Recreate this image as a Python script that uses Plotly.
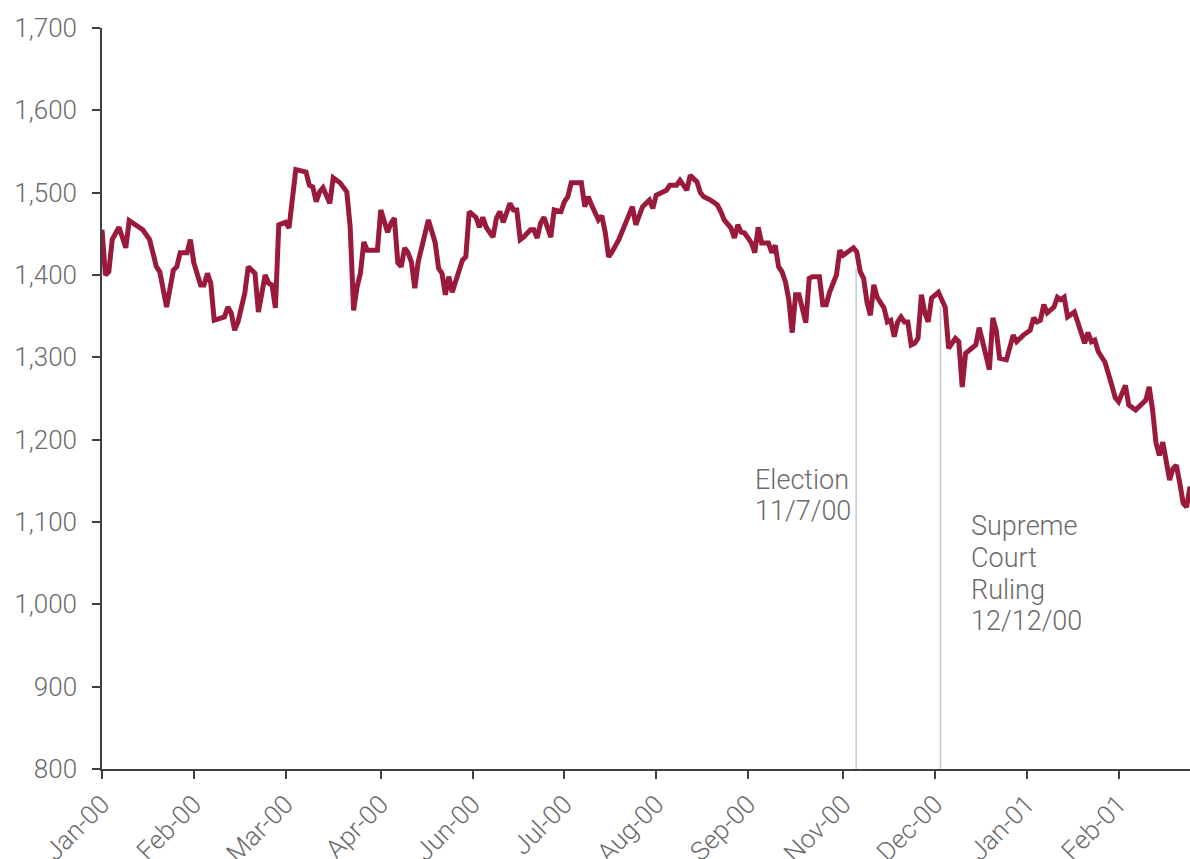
import plotly.graph_objects as go

# trading-day index and S&P 500 level
day = [0, 1, 2, 3, 5, 7, 8, 11, 12, 14, 16, 17, 19, 21, 22, 23, 25, 26, 27, 29,
       30, 31, 32, 33, 36, 37, 38, 39, 40, 42, 43, 45, 46, 48, 49, 50, 51, 52, 54, 55,
       56, 57, 58, 60, 61, 62, 63, 64, 65, 67, 68, 70, 72, 73, 74, 75, 76, 77, 78, 81,
       82, 83, 84, 85, 86, 87, 88, 89, 90, 91, 92, 93, 96, 98, 99, 100, 101, 102, 103, 106,
       107, 108, 110, 111, 112, 113, 115, 116, 117, 118, 120, 121, 122, 123, 124, 126, 127, 128, 129, 130,
       132, 133, 135, 136, 137, 138, 141, 142, 143, 144, 146, 147, 148, 149, 150, 152, 154, 156, 157, 159,
       161, 162, 163, 165, 166, 167, 169, 170, 172, 173, 175, 176, 177, 179, 181, 182, 183, 185, 186, 187,
       188, 189, 190, 191, 192, 193, 194, 195, 196, 197, 198, 199, 200, 201, 202, 203, 204, 205, 206, 207,
       208, 209, 211, 212, 213, 214, 216, 217, 218, 219, 220, 221, 222, 223, 224, 225, 226, 227, 228, 230,
       231, 232, 233, 234, 235, 236, 237, 238, 239, 240, 241, 242, 243, 244, 246, 248, 249, 251, 252, 253,
       254, 255, 257, 258, 259, 260, 261, 262, 263, 264, 266, 268, 269, 271, 273, 274, 275, 276, 277, 278,
       279, 280, 281, 282, 283, 284, 286, 287, 289, 290, 291, 292, 293, 295, 296, 297, 298, 299, 301, 302,
       304, 305, 307, 308, 309, 310, 311, 312, 313, 314, 315, 316, 317, 318, 319, 320]
level = [1455, 1400, 1404, 1443, 1458, 1433, 1466, 1457, 1455, 1443, 1410, 1404, 1361, 1406, 1410, 1427, 1427, 1443, 1415, 1388,
         1388, 1402, 1390, 1345, 1349, 1361, 1354, 1333, 1343, 1378, 1410, 1402, 1355, 1400, 1390, 1388, 1360, 1461, 1464, 1457,
         1494, 1528, 1527, 1525, 1509, 1507, 1489, 1501, 1506, 1487, 1518, 1512, 1501, 1458, 1357, 1385, 1402, 1440, 1430, 1430,
         1479, 1467, 1452, 1463, 1469, 1415, 1410, 1433, 1427, 1416, 1384, 1416, 1467, 1439, 1408, 1402, 1376, 1398, 1379, 1418,
         1422, 1477, 1470, 1458, 1470, 1458, 1446, 1469, 1477, 1464, 1487, 1479, 1479, 1443, 1446, 1455, 1455, 1445, 1463, 1470,
         1446, 1479, 1477, 1489, 1495, 1512, 1512, 1483, 1495, 1485, 1467, 1472, 1452, 1422, 1428, 1443, 1464, 1483, 1461, 1483,
         1491, 1481, 1497, 1500, 1503, 1509, 1509, 1515, 1503, 1521, 1513, 1500, 1495, 1491, 1485, 1477, 1467, 1457, 1445, 1461,
         1452, 1451, 1445, 1439, 1427, 1458, 1439, 1439, 1439, 1427, 1436, 1410, 1404, 1392, 1370, 1330, 1376, 1376, 1360, 1342,
         1396, 1398, 1398, 1364, 1364, 1379, 1400, 1430, 1424, 1427, 1430, 1433, 1428, 1404, 1396, 1367, 1351, 1388, 1373, 1360,
         1343, 1345, 1325, 1343, 1349, 1343, 1343, 1315, 1317, 1323, 1376, 1354, 1343, 1372, 1379, 1361, 1311, 1323, 1319, 1264,
         1305, 1309, 1315, 1336, 1317, 1301, 1285, 1348, 1333, 1299, 1297, 1327, 1319, 1327, 1333, 1348, 1343, 1345, 1364, 1354,
         1357, 1361, 1373, 1370, 1373, 1349, 1355, 1342, 1317, 1330, 1319, 1321, 1307, 1294, 1282, 1266, 1251, 1246, 1266, 1242,
         1236, 1240, 1248, 1264, 1236, 1196, 1181, 1197, 1172, 1151, 1165, 1169, 1147, 1123, 1118, 1143]

tick_days = [0, 27, 54, 82, 109, 136, 163, 190, 218, 245, 272, 299]
tick_labels = ["Jan-00", "Feb-00", "Mar-00", "Apr-00", "Jun-00", "Jul-00",
               "Aug-00", "Sep-00", "Nov-00", "Dec-00", "Jan-01", "Feb-01"]
y_ticks = [800, 900, 1000, 1100, 1200, 1300, 1400, 1500, 1600, 1700]

event_days = [221.8, 246.6]
event_tops = [1408, 1362]
# annotation lines: (text, x in days, y in index points)
election_lines = ["Election", "11/7/00"]
election_x = 191.6
election_y = [1151, 1113]
court_lines = ["Supreme", "Court", "Ruling", "12/12/00"]
court_x = 255.0
court_y = [1095, 1056, 1017, 980]

LINE = "#9a1a3c"
TXT = "#6b6b6b"
AX = "#404040"
FONT = dict(family="Roboto", size=26, color=TXT, weight=300)
ANN_FONT = dict(family="Roboto", size=27, color=TXT, weight=300)

fig = go.Figure()
for d, top in zip(event_days, event_tops):
    fig.add_trace(go.Scatter(x=[d, d], y=[800, top], mode="lines",
                             line=dict(color="#c3c6da", width=1.5),
                             hoverinfo="skip", showlegend=False))
fig.add_trace(go.Scatter(x=day, y=level, mode="lines",
                         line=dict(color=LINE, width=5),
                         showlegend=False))

for lines, lx, ly in [(election_lines, election_x, election_y),
                      (court_lines, court_x, court_y)]:
    for t, yy in zip(lines, ly):
        fig.add_annotation(x=lx, y=yy, xref="x", yref="y", text=t, showarrow=False,
                           xanchor="left", yanchor="middle", align="left",
                           font=ANN_FONT)

fig.update_layout(
    width=1190, height=859,
    margin=dict(l=102, r=0, t=28, b=90),
    paper_bgcolor="white", plot_bgcolor="white",
    font=FONT,
)
fig.update_xaxes(range=[0, 320], tickmode="array", tickvals=tick_days, ticktext=tick_labels,
                 tickangle=-45, showgrid=False, zeroline=False, automargin=False,
                 showline=True, linecolor=AX, linewidth=1.5,
                 ticks="outside", ticklen=8, tickwidth=1.5, tickcolor=AX,
                 tickfont=FONT)
fig.update_yaxes(range=[800, 1700], tickmode="array", tickvals=y_ticks,
                 tickformat=",d", showgrid=False, zeroline=False, automargin=False,
                 showline=True, linecolor=AX, linewidth=1.5,
                 ticks="outside", ticklen=8, tickwidth=1.5, tickcolor=AX,
                 tickfont=FONT, ticklabelstandoff=10)

fig.write_html("out.html")
